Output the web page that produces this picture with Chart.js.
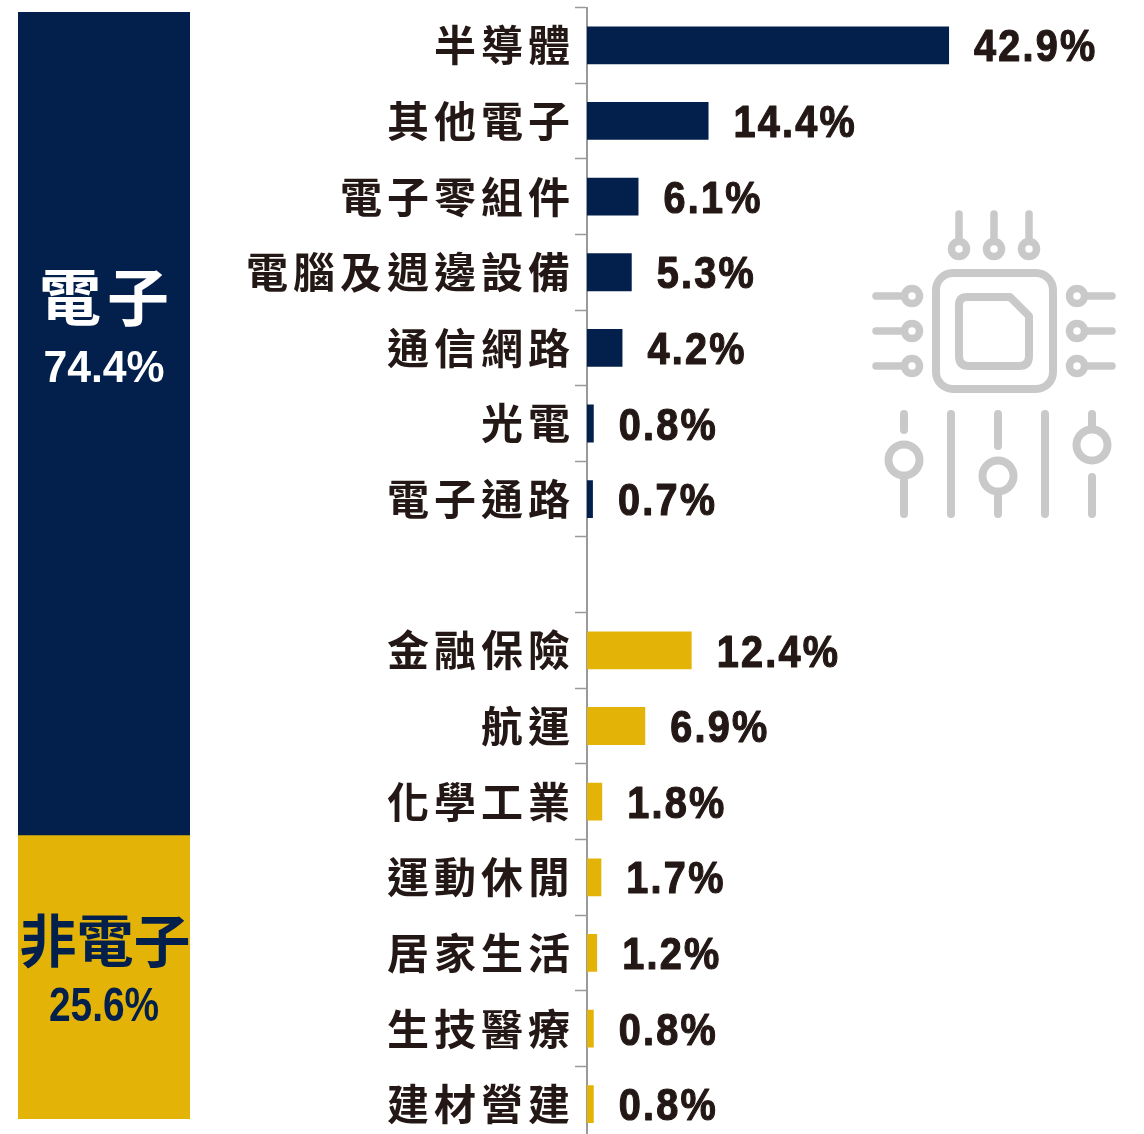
<!DOCTYPE html>
<html lang="zh-Hant"><head><meta charset="utf-8">
<style>
html,body{margin:0;padding:0;background:#fff;overflow:hidden;width:1144px;height:1134px}
canvas{position:absolute;display:block}
svg{position:absolute;left:0;top:0}
</style>
<script src="https://cdn.jsdelivr.net/npm/chart.js@4"></script>
</head><body>
<canvas id="share" style="left:18px;top:12px" width="172" height="1107"></canvas>
<canvas id="bars" style="left:0;top:0" width="1144" height="1142"></canvas>
<svg width="1144" height="1134" fill="none" stroke="#c9c9c9" stroke-width="8" stroke-linecap="round" stroke-linejoin="round">
  <g stroke-width="7.5">
    <path d="M959 214V238M994 214V238M1029 214V238"/>
    <circle cx="959" cy="249" r="7.5"/><circle cx="994" cy="249" r="7.5"/><circle cx="1029" cy="249" r="7.5"/>
    <path d="M876 296H903M876 331H903M876 366H903"/>
    <circle cx="912" cy="296" r="7.5"/><circle cx="912" cy="331" r="7.5"/><circle cx="912" cy="366" r="7.5"/>
    <path d="M1086 296H1112M1086 331H1112M1086 366H1112"/>
    <circle cx="1077" cy="296" r="7.5"/><circle cx="1077" cy="331" r="7.5"/><circle cx="1077" cy="366" r="7.5"/>
  </g>
  <rect x="936" y="273" width="117" height="116" rx="17"/>
  <path d="M967 297H1010L1029 316V356Q1029 366 1019 366H969Q959 366 959 356V305Q959 297 967 297Z"/>
  <path d="M904 414V430M904 480V514M951 414V514M998 414V446M998 496V514M1045 414V514M1092 414V425M1092 477V514"/>
  <circle cx="904" cy="460" r="15.5"/><circle cx="998" cy="476" r="15.5"/><circle cx="1092" cy="445" r="15.5"/>
</svg>
<script>
const categories = ['半導體','其他電子','電子零組件','電腦及週邊設備','通信網路','光電','電子通路','','金融保險','航運','化學工業','運動休閒','居家生活','生技醫療','建材營建'];
const electronicValues = [42.9,14.4,6.1,5.3,4.2,0.8,0.7,null,null,null,null,null,null,null,null];
const nonElectronicValues = [null,null,null,null,null,null,null,null,12.4,6.9,1.8,1.7,1.2,0.8,0.8];
const groupNames = ['電子','非電子'];
const groupShares = [74.4,25.6];
const NAVY = '#03204c', GOLD = '#e4b308', INK = '#231815';
const CJK = '"Noto Sans CJK TC"';
const NUM = '"Liberation Sans"';

function squeezedText(ctx,text,x,y,xScale,strokeW){
  ctx.save();
  ctx.translate(x,y);
  ctx.scale(xScale,1);
  ctx.fillText(text,0,0);
  if(strokeW){ctx.lineWidth=strokeW;ctx.strokeStyle=ctx.fillStyle;ctx.lineJoin='round';ctx.strokeText(text,0,0);}
  ctx.restore();
}

const valueLabels = {
  id:'valueLabels',
  beforeDraw(chart){ chart.ctx.letterSpacing='5px'; },
  afterDatasetsDraw(chart){
    const ctx = chart.ctx;
    ctx.save();
    ctx.font = `700 44px ${NUM}`;
    ctx.letterSpacing = '2.5px';
    ctx.fillStyle = INK;
    ctx.textBaseline = 'middle';
    ctx.textAlign = 'left';
    chart.data.datasets.forEach((ds,i)=>{
      chart.getDatasetMeta(i).data.forEach((el,j)=>{
        const v = ds.data[j];
        if (v==null) return;
        squeezedText(ctx,v.toFixed(1)+'%',el.x+25,el.y+4,0.9,1.2);
      });
    });
    ctx.restore();
  }
};

new Chart(document.getElementById('bars'),{
  type:'bar',
  data:{labels:categories,datasets:[
    {data:electronicValues,backgroundColor:NAVY,stack:'a'},
    {data:nonElectronicValues,backgroundColor:GOLD,stack:'a'}
  ]},
  options:{
    indexAxis:'y',responsive:false,animation:false,devicePixelRatio:1,
    layout:{padding:{top:7.5,left:0,right:0,bottom:0}},
    barPercentage:0.5,categoryPercentage:1,
    plugins:{legend:{display:false},tooltip:{enabled:false}},
    scales:{
      x:{display:false,min:0,max:66,stacked:true},
      y:{
        stacked:true,
        afterFit(s){s.width=587;s.paddingTop=0;s.paddingBottom=0;},
        border:{display:true,color:'#9a9a9a',width:2},
        grid:{drawOnChartArea:false,offset:true,tickLength:12,tickWidth:1.5,tickColor:'#9a9a9a'},
        ticks:{autoSkip:false,padding:0,color:INK,font:{family:CJK,size:42,weight:'700'},maxRotation:0}
      }
    }
  },
  plugins:[valueLabels]
});

const shareLabels = {
  id:'shareLabels',
  afterDatasetsDraw(chart){
    const ctx = chart.ctx;
    ctx.save();
    ctx.textAlign='center';ctx.textBaseline='middle';
    const rows = [
      {name:groupNames[0],value:groupShares[0],color:'#ffffff',nameX:89,nameY:285,valY:358,nameSize:62,ls:'6px',valSize:45,sq:0.95},
      {name:groupNames[1],value:groupShares[1],color:NAVY,nameX:87,nameY:928,valY:996,nameSize:57,ls:'0px',valSize:48,sq:0.81}
    ];
    rows.forEach(r=>{
      ctx.fillStyle=r.color;
      ctx.font=`700 ${r.nameSize}px ${CJK}`;
      ctx.letterSpacing=r.ls;
      ctx.fillText(r.name,r.nameX,r.nameY);
      ctx.font=`700 ${r.valSize}px ${NUM}`;
      ctx.letterSpacing='0px';
      squeezedText(ctx,r.value.toFixed(1)+'%',86,r.valY,r.sq,0);
    });
    ctx.restore();
  }
};

new Chart(document.getElementById('share'),{
  type:'bar',
  data:{labels:[''],datasets:[
    {data:[groupShares[1]],backgroundColor:GOLD},
    {data:[groupShares[0]],backgroundColor:NAVY}
  ]},
  options:{
    responsive:false,animation:false,devicePixelRatio:1,
    barPercentage:1,categoryPercentage:1,
    plugins:{legend:{display:false},tooltip:{enabled:false}},
    scales:{
      x:{display:false,stacked:true},
      y:{display:false,stacked:true,min:0,max:100}
    }
  },
  plugins:[shareLabels]
});
</script>
</body></html>
